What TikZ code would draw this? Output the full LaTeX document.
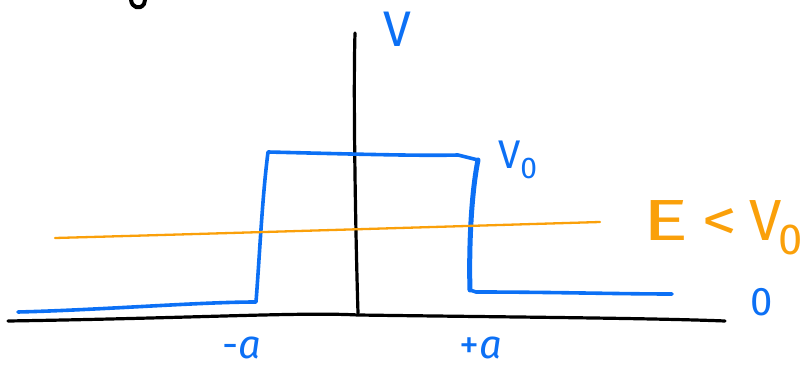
\documentclass[tikz,border=0pt]{standalone}
\usepackage{fontspec}
\setmainfont{Fira Sans}
\definecolor{pblue}{RGB}{12,112,245}
\definecolor{porange}{RGB}{250,160,10}
\newcommand{\subz}{\raisebox{-0.25em}{\scalebox{0.75}{0}}}
\begin{document}
\begin{tikzpicture}[x=1pt,y=-1pt,
  axisline/.style={draw=black,line width=3.2pt,line cap=round,line join=round},
  potline/.style={draw=pblue,line width=3.6pt,line cap=round,line join=round},
  energyline/.style={draw=porange,line width=2.3pt,line cap=round},
  bluelabel/.style={text=pblue,font=\fontsize{40}{42}\selectfont\fontseries{l}\selectfont,inner sep=0pt},
  orangelabel/.style={text=porange,font=\fontsize{58}{60}\selectfont\fontseries{l}\selectfont,inner sep=0pt}]
\useasboundingbox (0,0) rectangle (806,371);
% axes
\coordinate (xl) at (8,321);
\coordinate (xr) at (725,321);
\coordinate (yb) at (358,313);
\coordinate (yt) at (355,33);
\draw[axisline] (xl) .. controls (200,318) and (300,312) .. (358,315) .. controls (500,317) and (650,318) .. (xr);
\draw[axisline] (yb) .. controls (356,250) and (353,100) .. (yt);
% cut-off stroke at top
\draw[axisline,line width=4pt] (131,0) .. controls (132,8) and (140,10) .. (144,4) -- (145,0);
% potential
\coordinate (p0) at (18,312);
\coordinate (p1) at (256,302);
\coordinate (p2) at (268,152);
\coordinate (p3) at (458,155);
\coordinate (p4) at (478,160);
\coordinate (p6) at (672,294);
\draw[potline] (p0) .. controls (100,310) and (200,302) .. (p1)
  .. controls (260,250) and (262,200) .. (p2)
  .. controls (350,154) and (420,156) .. (p3) -- (p4);
\draw[potline,line width=5pt] (p4) .. controls (470,200) and (469,260) .. (470,290);
\draw[potline] (470,290) -- (476,292)
  .. controls (550,292) and (620,294) .. (p6);
% energy
\coordinate (e0) at (55,238);
\coordinate (e1) at (600,222);
\draw[energyline] (e0) .. controls (200,234) and (400,228) .. (e1);
% labels
\node[bluelabel,font=\fontsize{50}{52}\selectfont\fontseries{l}\selectfont] (lv) at (397,29) {V};
\node[bluelabel,anchor=west] (lv0) at (498,160) {V\subz};
\node[bluelabel] (lzero) at (762,302) {0};
\node[bluelabel] (lma) at (242,348) {-\textit{a}};
\node[bluelabel] (lpa) at (481,348) {+\textit{a}};
\node[orangelabel,anchor=west] (le) at (642,228) {\scalebox{1.5}[1]{E}\hspace{14pt}\scalebox{1.2}[1]{<}\hspace{12pt}V\hspace{-3pt}\subz};
\end{tikzpicture}
\end{document}
